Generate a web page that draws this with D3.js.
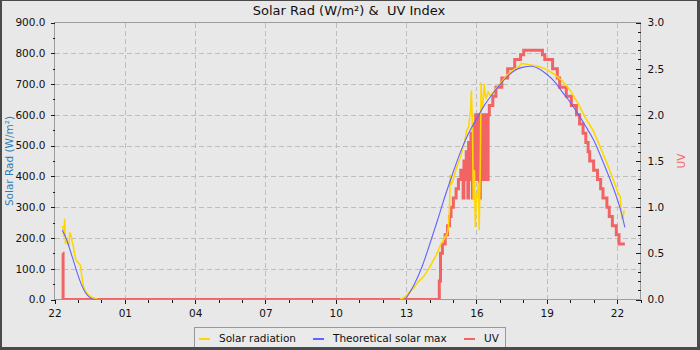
<!DOCTYPE html>
<html>
<head>
<meta charset="utf-8">
<script src="https://cdn.jsdelivr.net/npm/d3@7"></script>
<style>
  html, body { margin: 0; padding: 0; background: #fff; }
  svg { display: block; font-family: "DejaVu Sans", sans-serif; }
  text { white-space: pre; }
</style>
</head>
<body>
<svg id="chart" width="700" height="350"></svg>
<script>
// ---- data -------------------------------------------------------------
const chartTitle = "Solar Rad (W/m²) &  UV Index";
const leftAxisTitle = "Solar Rad (W/m²)";
const rightAxisTitle = "UV";

// [time "HH:MM", W/m²] — the clock wraps past midnight into the next day
const solarRadiation = [
  ["22:20", 240], ["22:22", 232], ["22:24", 205], ["22:26", 262], ["22:28", 185],
  ["22:31", 190], ["22:34", 178], ["22:37", 176], ["22:39", 218], ["22:42", 210],
  ["22:45", 188], ["22:48", 175], ["22:51", 150], ["22:54", 133], ["22:57", 125],
  ["23:00", 120], ["23:04", 115], ["23:07", 108], ["23:10", 75], ["23:13", 50],
  ["23:16", 36], ["23:20", 25], ["23:25", 17], ["23:30", 12], ["23:35", 8],
  ["23:40", 5], ["23:45", 3], ["23:50", 0], ["23:55", null],
  ["12:45", 0], ["12:49", 3], ["12:57", 8], ["13:05", 19], ["13:12", 28],
  ["13:19", 36], ["13:25", 48], ["13:30", 56], ["13:35", 62], ["13:40", 68],
  ["13:45", 75], ["13:50", 84], ["13:55", 94], ["14:00", 104], ["14:05", 116],
  ["14:10", 128], ["14:15", 139], ["14:20", 152], ["14:25", 168], ["14:30", 182],
  ["14:35", 191], ["14:40", 203], ["14:45", 212], ["14:48", 230], ["14:51", 290],
  ["14:53", 405], ["14:55", 372], ["15:00", 388], ["15:05", 410], ["15:10", 433],
  ["15:15", 448], ["15:20", 465], ["15:25", 494], ["15:30", 512], ["15:35", 550],
  ["15:40", 560], ["15:45", 615], ["15:47", 680], ["15:50", 560], ["15:52", 323],
  ["15:55", 420], ["15:57", 236], ["16:00", 344], ["16:02", 330], ["16:05", 380],
  ["16:07", 225], ["16:10", 453], ["16:12", 705], ["16:14", 620], ["16:17", 640],
  ["16:20", 700], ["16:23", 660], ["16:25", 655], ["16:30", 674], ["16:35", 664],
  ["16:40", 668], ["16:45", 675], ["16:50", 686], ["16:55", 692], ["17:00", 698],
  ["17:10", 716], ["17:20", 732], ["17:30", 742], ["17:40", 750], ["17:50", 758],
  ["17:55", 767], ["18:00", 766], ["18:20", 762], ["18:40", 757], ["19:00", 747],
  ["19:20", 731], ["19:40", 710], ["20:00", 680], ["20:20", 637], ["20:40", 588],
  ["21:00", 546], ["21:20", 486], ["21:40", 424], ["21:50", 391], ["22:00", 355],
  ["22:05", 340], ["22:08", 335], ["22:10", 300], ["22:12", 263], ["22:15", 263],
  ["22:18", 290]
];

const theoreticalMax = [
  ["22:20", 225], ["22:30", 198], ["22:40", 160], ["22:50", 120], ["23:00", 79],
  ["23:10", 45], ["23:20", 21], ["23:30", 7], ["23:40", 1], ["23:50", 0], ["23:55", null],
  ["12:57", 0], ["13:05", 14], ["13:20", 47], ["13:40", 104], ["14:00", 178],
  ["14:20", 256], ["14:40", 337], ["15:00", 412], ["15:20", 482], ["15:40", 540],
  ["16:00", 586], ["16:20", 630], ["16:40", 666], ["17:00", 698], ["17:20", 726],
  ["17:40", 746], ["18:00", 755], ["18:20", 758], ["18:40", 750], ["19:00", 732],
  ["19:20", 708], ["19:40", 674], ["20:00", 641], ["20:20", 603], ["20:40", 562],
  ["21:00", 518], ["21:20", 460], ["21:40", 397], ["22:00", 328], ["22:10", 287],
  ["22:20", 234]
];

// UV index, held until the next reading
const uvIndex = [
  ["22:21", 0.5], ["22:22", 0],
  ["14:25", 0.2], ["14:28", 0.5], ["14:33", 0.6], ["14:40", 0.7], ["14:46", 0.8],
  ["14:51", 0.9], ["14:55", 1.0], ["15:01", 1.1], ["15:08", 1.2], ["15:14", 1.3],
  ["15:20", 1.4], ["15:26", 1.1], ["15:28", 1.5], ["15:32", 1.3], ["15:34", 1.6],
  ["15:38", 1.1], ["15:40", 1.7], ["15:44", 1.3], ["15:46", 1.8], ["15:50", 1.1],
  ["15:52", 1.9], ["15:56", 1.3], ["15:58", 2.0], ["16:02", 1.3], ["16:04", 2.0],
  ["16:08", 1.1], ["16:10", 2.0], ["16:14", 1.3], ["16:16", 2.0], ["16:20", 1.3],
  ["16:22", 2.0], ["16:28", 1.3], ["16:30", 2.0], ["16:33", 2.1], ["16:42", 2.2],
  ["16:50", 2.3], ["17:05", 2.4], ["17:20", 2.5], ["17:38", 2.6], ["17:53", 2.65],
  ["18:01", 2.7], ["18:49", 2.65], ["18:55", 2.6], ["19:15", 2.5], ["19:27", 2.4],
  ["19:33", 2.3], ["19:50", 2.2], ["20:03", 2.1], ["20:16", 2.0], ["20:24", 1.9],
  ["20:33", 1.8], ["20:40", 1.7], ["20:46", 1.6], ["20:50", 1.5], ["21:00", 1.4],
  ["21:10", 1.3], ["21:18", 1.2], ["21:24", 1.1], ["21:34", 1.0], ["21:40", 0.9],
  ["21:48", 0.8], ["21:58", 0.7], ["22:05", 0.6], ["22:20", 0.6]
];

const radTicks = [0, 100, 200, 300, 400, 500, 600, 700, 800, 900];
const uvTicks = [0, 0.5, 1.0, 1.5, 2.0, 2.5, 3.0];
const hourLabels = ["22", "01", "04", "07", "10", "13", "16", "19", "22"];
const legendLabels = ["Solar radiation", "Theoretical solar max", "UV"];

// ---- helpers ----------------------------------------------------------
function toSeries(rows) {
  let day = 0, prev = -1;
  return rows.map(([hm, v]) => {
    const [h, m] = hm.split(":").map(Number);
    const mins = h * 60 + m;
    if (mins < prev) day++;
    prev = mins;
    return { t: new Date(2000, 0, 1 + day, h, m), v };
  });
}

const solar = toSeries(solarRadiation);
const theo = toSeries(theoreticalMax);
const uv = toSeries(uvIndex);

// ---- layout -----------------------------------------------------------
const W = 700, H = 350;
const plot = { left: 54.5, right: 640.5, top: 22.5, bottom: 299.5 };
const colors = { solar: "#ffd700", theo: "#6262ff", uv: "#f26464",
                 bg: "#e8e8e8", border: "#4a4a4a", frame: "#9c9c9c", grid: "#bdbdbd" };

const svg = d3.select("#chart");

svg.append("rect").attr("width", W).attr("height", H).attr("fill", colors.border);
svg.append("rect").attr("x", 2).attr("y", 1).attr("width", 695).attr("height", 346)
  .attr("fill", colors.bg);

const tStart = new Date(2000, 0, 1, 22, 0);
const tEnd = new Date(2000, 0, 2, 23, 0);
const x = d3.scaleTime().domain([tStart, tEnd]).range([plot.left, plot.right]);
const yRad = d3.scaleLinear().domain([0, 900]).range([plot.bottom, plot.top]);
const yUV = d3.scaleLinear().domain([0, 3]).range([plot.bottom, plot.top]);

const hourTicks = hourLabels.map((_, i) => d3.timeHour.offset(tStart, i * 3));
const hourMinor = d3.range(0, 26).map(i => d3.timeHour.offset(tStart, i));
const radMinor = d3.range(0, 901, 50);
const uvMinor = d3.range(0, 31).map(i => i / 10);

// grid
const grid = svg.append("g").attr("stroke", colors.grid).attr("stroke-dasharray", "5,3")
  .attr("shape-rendering", "crispEdges");
radTicks.filter(v => v > 0 && v < 900).forEach(v => {
  grid.append("line").attr("x1", plot.left).attr("x2", plot.right)
    .attr("y1", Math.round(yRad(v)) + 0.5).attr("y2", Math.round(yRad(v)) + 0.5);
});
hourTicks.slice(1).forEach(d => {
  const px = Math.round(x(d)) + 0.5;
  grid.append("line").attr("x1", px).attr("x2", px).attr("y1", plot.top).attr("y2", plot.bottom);
});

// frame
svg.append("rect").attr("x", plot.left).attr("y", plot.top)
  .attr("width", plot.right - plot.left).attr("height", plot.bottom - plot.top)
  .attr("fill", "none").attr("stroke", colors.frame).attr("shape-rendering", "crispEdges");

// data lines
svg.append("defs").append("clipPath").attr("id", "plotclip")
  .append("rect").attr("x", plot.left).attr("y", plot.top - 3)
  .attr("width", plot.right - plot.left).attr("height", plot.bottom - plot.top + 3);

const lines = svg.append("g").attr("clip-path", "url(#plotclip)");

lines.append("path").datum(uv)
  .attr("d", d3.line().x(d => x(d.t)).y(d => yUV(d.v)).curve(d3.curveStepAfter))
  .attr("fill", "none").attr("stroke", colors.uv).attr("stroke-width", 3)
  .attr("stroke-linejoin", "miter");

lines.append("path").datum(solar)
  .attr("d", d3.line().defined(d => d.v !== null).x(d => x(d.t)).y(d => yRad(d.v)))
  .attr("fill", "none").attr("stroke", colors.solar).attr("stroke-width", 1.6);

lines.append("path").datum(theo)
  .attr("d", d3.line().defined(d => d.v !== null).x(d => x(d.t)).y(d => yRad(d.v))
    .curve(d3.curveMonotoneX))
  .attr("fill", "none").attr("stroke", colors.theo).attr("stroke-width", 1.1);

// axes
const tickColor = "#1a1a1a";
function styleAxis(g) {
  g.select(".domain").remove();
  g.selectAll(".tick line").attr("stroke", tickColor).attr("shape-rendering", "crispEdges");
  g.selectAll(".tick text").attr("fill", "#111").attr("font-size", "10.5px")
    .attr("font-family", "DejaVu Sans, sans-serif");
}

// left
svg.append("g").attr("transform", `translate(${plot.left},0)`)
  .call(d3.axisLeft(yRad).tickValues(radMinor).tickSize(2).tickFormat(""))
  .call(styleAxis);
svg.append("g").attr("transform", `translate(${plot.left},0)`)
  .call(d3.axisLeft(yRad).tickValues(radTicks).tickSize(4).tickPadding(5)
    .tickFormat(d3.format(".1f")))
  .call(styleAxis);

// right (ticks point into the plot)
svg.append("g").attr("transform", `translate(${plot.right},0)`)
  .call(d3.axisRight(yUV).tickValues(uvMinor).tickSize(-3).tickFormat(""))
  .call(styleAxis);
svg.append("g").attr("transform", `translate(${plot.right},0)`)
  .call(d3.axisRight(yUV).tickValues(uvTicks).tickSize(-5).tickPadding(7)
    .tickFormat(d3.format(".1f")))
  .call(styleAxis);

// bottom
svg.append("g").attr("transform", `translate(0,${plot.bottom})`)
  .call(d3.axisBottom(x).tickValues(hourMinor).tickSize(3).tickFormat(""))
  .call(styleAxis);
svg.append("g").attr("transform", `translate(0,${plot.bottom})`)
  .call(d3.axisBottom(x).tickValues(hourTicks).tickSize(4).tickPadding(6)
    .tickFormat((d, i) => hourLabels[i]))
  .call(styleAxis);

// titles
svg.append("text").attr("x", 349).attr("y", 15).attr("text-anchor", "middle")
  .attr("font-size", "13px").attr("fill", "#111").text(chartTitle);

svg.append("text").attr("transform", `translate(13,161) rotate(-90)`)
  .attr("text-anchor", "middle").attr("font-size", "10.5px").attr("fill", "#2f7db8")
  .text(leftAxisTitle);

svg.append("text").attr("transform", `translate(685,161) rotate(-90)`)
  .attr("text-anchor", "middle").attr("font-size", "10.5px").attr("fill", "#f06868")
  .text(rightAxisTitle);

// legend
const legend = svg.append("g");
legend.append("rect").attr("x", 194.5).attr("y", 327.5).attr("width", 311).attr("height", 24)
  .attr("fill", "#eaeaea").attr("stroke", "#999").attr("shape-rendering", "crispEdges");
const legendItems = [
  { label: legendLabels[0], color: colors.solar, x: 199 },
  { label: legendLabels[1], color: colors.theo, x: 313 },
  { label: legendLabels[2], color: colors.uv, x: 464 }
];
legendItems.forEach(it => {
  legend.append("line").attr("x1", it.x).attr("x2", it.x + 11).attr("y1", 338.5).attr("y2", 338.5)
    .attr("stroke", it.color).attr("stroke-width", 2).attr("shape-rendering", "crispEdges");
  legend.append("text").attr("x", it.x + 20).attr("y", 341.5).attr("font-size", "10.5px")
    .attr("fill", "#111").text(it.label);
});

// outer border drawn over the legend bottom edge
svg.append("rect").attr("x", 0).attr("y", 347).attr("width", W).attr("height", 3).attr("fill", colors.border);
</script>
</body>
</html>
